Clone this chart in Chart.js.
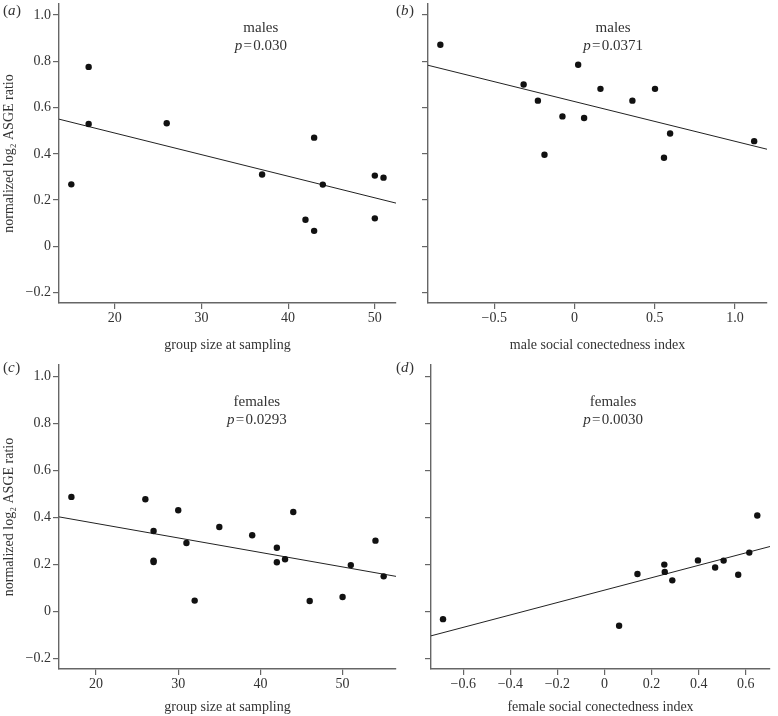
<!DOCTYPE html>
<html><head><meta charset="utf-8">
<script src="https://cdn.jsdelivr.net/npm/chart.js@4.4.1/dist/chart.umd.min.js"></script>
<style>
html,body{margin:0;padding:0;background:#fff;}
#wrap{position:relative;width:778px;height:716px;overflow:hidden;background:#fff;}
canvas{position:absolute;}
</style></head><body>
<div id="wrap">
<canvas id="ca" width="400" height="360" style="left:0;top:0"></canvas>
<canvas id="cb" width="388" height="360" style="left:390px;top:0"></canvas>
<canvas id="cc" width="400" height="356" style="left:0;top:360px"></canvas>
<canvas id="cd" width="388" height="356" style="left:390px;top:360px"></canvas>
</div>
<script>
// ---------- data ----------
const groupSizeMales = [15, 17, 17, 26, 37, 42, 43, 43, 44, 50, 50, 51];
const ratioMalesGroup = [0.268, 0.776, 0.529, 0.532, 0.311, 0.115, 0.470, 0.067, 0.267, 0.306, 0.121, 0.297];
const fitMalesGroupX = [13.58, 52.44];
const fitMalesGroupY = [0.550, 0.187];

const maleSocialIndex = [-0.836, -0.317, -0.228, -0.187, -0.075, 0.023, 0.060, 0.162, 0.361, 0.502, 0.558, 0.596, 1.120];
const ratioMalesSocial = [0.872, 0.700, 0.630, 0.396, 0.562, 0.785, 0.555, 0.681, 0.630, 0.681, 0.383, 0.488, 0.455];
const fitMalesSocialX = [-0.913, 1.200];
const fitMalesSocialY = [0.783, 0.420];

const groupSizeFemales = [17, 26, 27, 27, 27, 30, 31, 32, 35, 39, 42, 42, 43, 44, 46, 50, 51, 54, 55];
const ratioFemalesGroup = [0.487, 0.477, 0.342, 0.216, 0.210, 0.430, 0.291, 0.046, 0.359, 0.324, 0.271, 0.209, 0.222, 0.423, 0.044, 0.061, 0.197, 0.301, 0.149];
const fitFemalesGroupX = [15.49, 56.5];
const fitFemalesGroupY = [0.402, 0.149];

const femaleSocialIndex = [-0.686, 0.062, 0.140, 0.254, 0.256, 0.288, 0.397, 0.470, 0.506, 0.568, 0.615, 0.649];
const ratioFemalesSocial = [-0.033, -0.061, 0.159, 0.199, 0.168, 0.132, 0.217, 0.187, 0.216, 0.156, 0.250, 0.408];
const fitFemalesSocialX = [-0.737, 0.703];
const fitFemalesSocialY = [-0.104, 0.276];

const yTicks = [-0.2, 0, 0.2, 0.4, 0.6, 0.8, 1.0];
const yTickLabels = ['\u22120.2', '0', '0.2', '0.4', '0.6', '0.8', '1.0'];
const groupTicks = [20, 30, 40, 50];
const groupTickLabels = ['20', '30', '40', '50'];
const maleIdxTicks = [-0.5, 0, 0.5, 1.0];
const maleIdxTickLabels = ['\u22120.5', '0', '0.5', '1.0'];
const femIdxTicks = [-0.6, -0.4, -0.2, 0, 0.2, 0.4, 0.6];
const femIdxTickLabels = ['\u22120.6', '\u22120.4', '\u22120.2', '0', '0.2', '0.4', '0.6'];

const panelLetters = ['a', 'b', 'c', 'd'];
const groupLabels = ['males', 'males', 'females', 'females'];
const pValues = ['0.030', '0.0371', '0.0293', '0.0030'];
const yTitle = 'normalized log\u2082 ASGE ratio';
const xTitles = ['group size at sampling', 'male social conectedness index', 'group size at sampling', 'female social conectedness index'];

// ---------- style ----------
const FONT = '"Liberation Serif", "Times New Roman", serif';
const TXT = '#333333';
const AX = '#666666';

const annotPlugin = {
  id: 'annot',
  afterDraw(chart, args, o) {
    const ctx = chart.ctx, ca = chart.chartArea;
    ctx.save();
    ctx.fillStyle = TXT;
    ctx.textBaseline = 'middle';
    ctx.textAlign = 'left';
    ctx.font = '15px ' + FONT;
    let x = o.lx;
    ctx.fillText('(', x, o.ly); x += ctx.measureText('(').width;
    ctx.font = 'italic 15px ' + FONT;
    ctx.fillText(o.letter, x, o.ly); x += ctx.measureText(o.letter).width + 0.5;
    ctx.font = '15px ' + FONT;
    ctx.fillText(')', x, o.ly);
    const cx = ca.left + o.fx * (ca.right - ca.left);
    ctx.textAlign = 'center';
    ctx.fillText(o.group, cx, ca.top + o.dy1);
    ctx.font = 'italic 15px ' + FONT;
    const pw = ctx.measureText('p').width;
    ctx.font = '15px ' + FONT;
    const rest = '\u200a=\u200a' + o.p;
    const rw = ctx.measureText(rest).width;
    const sx = cx - (pw + rw) / 2;
    ctx.textAlign = 'left';
    ctx.font = 'italic 15px ' + FONT;
    ctx.fillText('p', sx, ca.top + o.dy2);
    ctx.font = '15px ' + FONT;
    ctx.fillText(rest, sx + pw, ca.top + o.dy2);
    ctx.restore();
  }
};

function pts(xs, ys) { return xs.map((v, i) => ({x: v, y: ys[i]})); }

function makePanel(id, p) {
  const xs = {
    type: 'linear', position: 'bottom', min: p.xmin, max: p.xmax,
    afterBuildTicks: s => { s.ticks = p.xticks.map(v => ({value: v})); },
    afterFit: s => { s.height = p.xh; s.paddingLeft = 0; s.paddingRight = 0; },
    ticks: {callback: (v, i) => p.xlabels[i], font: {family: FONT, size: 14}, color: TXT, padding: 1, maxRotation: 0, autoSkip: false},
    grid: {display: true, drawOnChartArea: false, drawTicks: true, tickLength: 6, color: AX, lineWidth: 1.2},
    border: {display: true, color: AX, width: 1.4},
    title: {display: true, text: p.xtitle, font: {family: FONT, size: 14}, color: TXT, padding: {top: 0, bottom: p.xtpad}}
  };
  const ys = {
    type: 'linear', position: 'left', min: -0.245, max: 1.048,
    afterBuildTicks: s => { s.ticks = yTicks.map(v => ({value: v})); },
    afterFit: s => { s.width = p.yw; s.paddingTop = 0; s.paddingBottom = 0; },
    ticks: {display: p.ylab, callback: (v, i) => yTickLabels[i], font: {family: FONT, size: 14}, color: TXT, padding: 2},
    grid: {display: true, drawOnChartArea: false, drawTicks: true, tickLength: 6, color: AX, lineWidth: 1.2},
    border: {display: true, color: AX, width: 1.4},
    title: {display: p.ylab, text: yTitle, font: {family: FONT, size: 14}, color: TXT, padding: {top: 1, bottom: 0}}
  };
  return new Chart(document.getElementById(id), {
    type: 'scatter',
    data: {datasets: [
      {data: pts(p.x, p.y), pointRadius: 3.2, pointBackgroundColor: '#111', pointBorderWidth: 0, showLine: false},
      {type: 'line', data: pts(p.fx, p.fy), borderColor: '#222', borderWidth: 1, pointRadius: 0, fill: false, tension: 0}
    ]},
    options: {
      responsive: false, animation: false, devicePixelRatio: 1,
      layout: {padding: p.pad},
      scales: {x: xs, y: ys},
      plugins: {legend: {display: false}, tooltip: {enabled: false}, annot: p.annot}
    },
    plugins: [annotPlugin]
  });
}

makePanel('ca', {
  x: groupSizeMales, y: ratioMalesGroup, fx: fitMalesGroupX, fy: fitMalesGroupY,
  xmin: 13.58, xmax: 52.44, xticks: groupTicks, xlabels: groupTickLabels, xtitle: xTitles[0],
  xh: 57, xtpad: 6.6, yw: 59, ylab: true, pad: {left: 0, top: 0, right: 2, bottom: 0},
  annot: {letter: panelLetters[0], lx: 3, ly: 11, group: groupLabels[0], p: pValues[0], fx: 0.599, dy1: 24, dy2: 42}
});
makePanel('cb', {
  x: maleSocialIndex, y: ratioMalesSocial, fx: fitMalesSocialX, fy: fitMalesSocialY,
  xmin: -0.913, xmax: 1.200, xticks: maleIdxTicks, xlabels: maleIdxTickLabels, xtitle: xTitles[1],
  xh: 57, xtpad: 6.6, yw: 38, ylab: false, pad: {left: 0, top: 0, right: 11, bottom: 0},
  annot: {letter: panelLetters[1], lx: 6, ly: 11, group: groupLabels[1], p: pValues[1], fx: 0.546, dy1: 24, dy2: 42}
});
makePanel('cc', {
  x: groupSizeFemales, y: ratioFemalesGroup, fx: fitFemalesGroupX, fy: fitFemalesGroupY,
  xmin: 15.49, xmax: 56.5, xticks: groupTicks, xlabels: groupTickLabels, xtitle: xTitles[2],
  xh: 47, xtpad: 0, yw: 59, ylab: true, pad: {left: 0, top: 5, right: 2, bottom: 0},
  annot: {letter: panelLetters[2], lx: 3, ly: 8, group: groupLabels[2], p: pValues[2], fx: 0.587, dy1: 37, dy2: 55}
});
makePanel('cd', {
  x: femaleSocialIndex, y: ratioFemalesSocial, fx: fitFemalesSocialX, fy: fitFemalesSocialY,
  xmin: -0.737, xmax: 0.703, xticks: femIdxTicks, xlabels: femIdxTickLabels, xtitle: xTitles[3],
  xh: 47, xtpad: 0, yw: 41, ylab: false, pad: {left: 0, top: 5, right: 8, bottom: 0},
  annot: {letter: panelLetters[3], lx: 6, ly: 8, group: groupLabels[3], p: pValues[3], fx: 0.537, dy1: 37, dy2: 55}
});
</script>
</body></html>
